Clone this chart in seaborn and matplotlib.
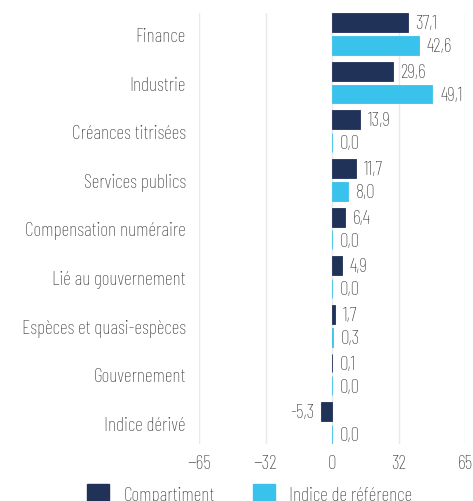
import matplotlib
matplotlib.use("Agg")
import matplotlib.pyplot as plt
import seaborn as sns
import pandas as pd
from matplotlib.patches import Patch

categories = ["Finance", "Industrie", "Créances titrisées", "Services publics",
              "Compensation numéraire", "Lié au gouvernement",
              "Espèces et quasi-espèces", "Gouvernement", "Indice dérivé"]
compartiment = [37.1, 29.6, 13.9, 11.7, 6.4, 4.9, 1.7, 0.1, -5.3]
indice = [42.6, 49.1, 0.0, 8.0, 0.0, 0.0, 0.3, 0.0, 0.0]
series_names = ["Compartiment", "Indice de référence"]
xticks = [-65, -32.5, 0, 32.5, 65]
xtick_labels = ["−65", "−32", "0", "32", "65"]

DARK = "#213259"
LIGHT = "#39c2eb"
TEXT = "#3a3a3a"
FS = 14

sns.set_theme(style="white")
plt.rcParams["font.family"] = ["Barlow Condensed", "DejaVu Sans"]
plt.rcParams["font.weight"] = "light"

df = pd.DataFrame({
    "cat": categories * 2,
    "val": compartiment + indice,
    "serie": [series_names[0]] * len(categories) + [series_names[1]] * len(categories),
})

fig = plt.figure(figsize=(4.73, 5.02), dpi=100)
ax = fig.add_axes([199 / 473, 1 - 445 / 502, (465 - 199) / 473, (445 - 14) / 502])

sns.barplot(data=df, y="cat", x="val", hue="serie", order=categories,
            hue_order=series_names, palette=[DARK, LIGHT], orient="h",
            width=0.94, gap=0.17, ax=ax, legend=False, saturation=1)

for bars in ax.containers:
    for p in bars:
        p.set_edgecolor(p.get_facecolor())
        p.set_linewidth(0.6)

for bars, vals in zip(ax.containers, [compartiment, indice]):
    labels = [f"{v:.1f}".replace(".", ",") for v in vals]
    for p, v, lab in zip(bars, vals, labels):
        y = p.get_y() + p.get_height() / 2
        x0, x1 = sorted([p.get_x(), p.get_x() + p.get_width()])
        x = x1 if v >= 0 else x0
        ax.annotate(lab, (x, y), xytext=(5.5 if v >= 0 else -5, -0.5),
                    textcoords="offset points", va="center",
                    ha="left" if v >= 0 else "right", fontsize=FS, color=TEXT)

ax.set_xlim(-65, 65)
ax.set_ylim(8.43, -0.43)
ax.set_xticks(xticks)
ax.set_xticklabels(xtick_labels)
ax.grid(axis="x", color="#e9e9e9", linewidth=1)
ax.set_axisbelow(True)
for s in ax.spines.values():
    s.set_visible(False)
ax.set_xlabel("")
ax.set_ylabel("")
ax.tick_params(axis="y", length=0, pad=9.5, labelsize=FS, labelcolor=TEXT)
ax.tick_params(axis="x", length=0, pad=7, labelsize=FS, labelcolor=TEXT)

handles = [Patch(facecolor=DARK, edgecolor=DARK), Patch(facecolor=LIGHT, edgecolor=LIGHT)]
fig.legend(handles, series_names, loc="upper left", bbox_to_anchor=(87 / 473, 1 - 485 / 502),
           ncol=2, frameon=False, fontsize=FS, handlelength=1.15, handleheight=1.15,
           columnspacing=1.95, handletextpad=0.72, borderpad=0, borderaxespad=0,
           labelcolor=TEXT)

fig.savefig("out.png", dpi=100)
